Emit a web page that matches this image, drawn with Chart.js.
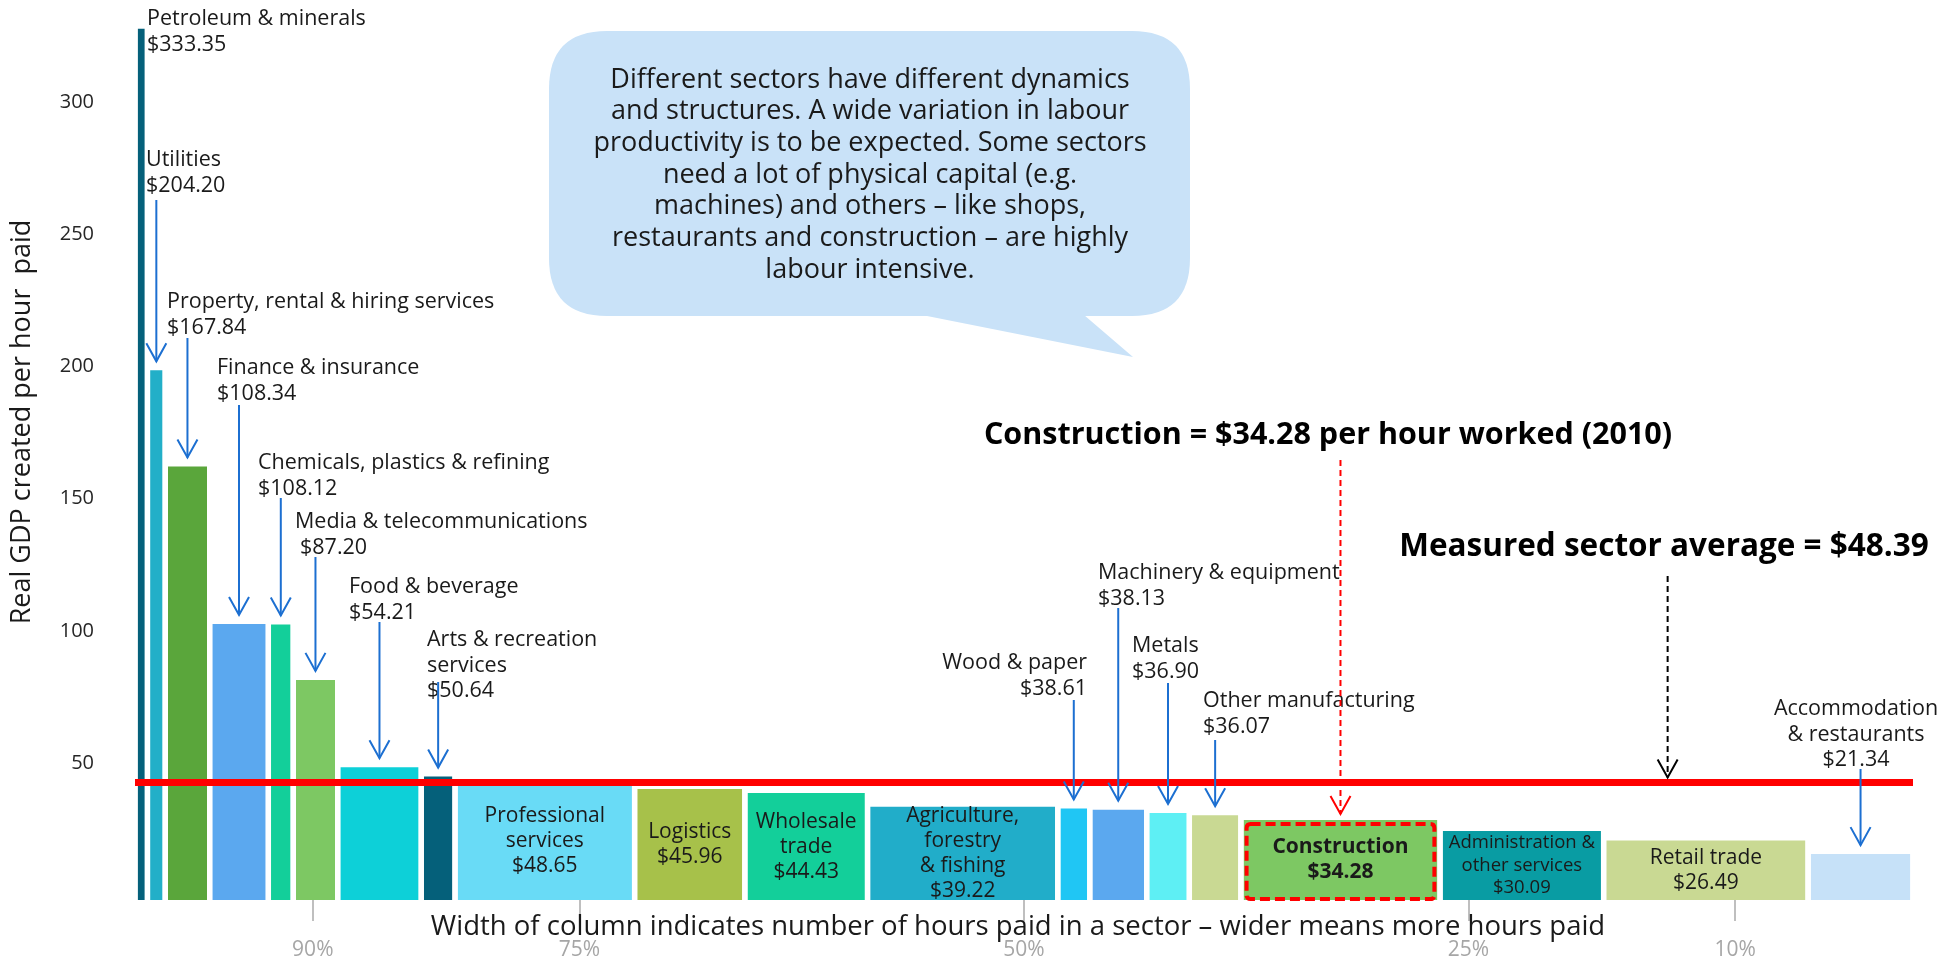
<!DOCTYPE html>
<html>
<head>
<meta charset="utf-8">
<script src="https://cdn.jsdelivr.net/npm/chart.js@4.4.1/dist/chart.umd.min.js"></script>
<style>
  html, body { margin: 0; padding: 0; background: #fff; }
  #wrap { width: 1960px; height: 961px; }
</style>
</head>
<body>
<div id="wrap"><canvas id="chart" width="1960" height="961"></canvas></div>
<script>
const sectors = [
    'Petroleum & minerals', 'Utilities', 'Property, rental & hiring services', 'Finance & insurance',
    'Chemicals, plastics & refining', 'Media & telecommunications', 'Food & beverage',
    'Arts & recreation services', 'Professional services', 'Logistics', 'Wholesale trade',
    'Agriculture, forestry & fishing', 'Wood & paper', 'Machinery & equipment', 'Metals',
    'Other manufacturing', 'Construction', 'Administration & other services', 'Retail trade',
    'Accommodation & restaurants'
];
// real GDP per hour paid ($)
const gdpPerHour = [333.35, 204.20, 167.84, 108.34, 108.12, 87.20, 54.21, 50.64, 48.65, 45.96,
    44.43, 39.22, 38.61, 38.13, 36.90, 36.07, 34.28, 30.09, 26.49, 21.34];
// share of total hours paid (%), read from column widths
const hoursShare = [0.7, 1.0, 2.5, 3.3, 1.4, 2.5, 4.7, 1.9, 10.1, 6.2,
    6.9, 10.7, 1.8, 3.2, 2.4, 2.9, 11.2, 9.2, 11.5, 5.9];
const sectorAverage = 48.39;
const yTicks = [50, 100, 150, 200, 250, 300];
const hoursTicks = [90, 75, 50, 25, 10];   // % of hours to the right of the tick

const barColours = ['#05607a', '#22afc8', '#5aa63b', '#5ba8ef', '#13cf9a', '#7dc863', '#0dd0d8',
    '#05607a', '#69dbf6', '#a7c14a', '#13cf9a', '#21adc9', '#20c6f4', '#5ba8ef', '#5eeff4',
    '#c9d993', '#7dc863', '#099ca3', '#c9d993', '#c6e1f8'];

const FONT = '"Open Sans", sans-serif';
const GAP = 0.3;
const CONSTRUCTION = 16;

// cumulative start of each column along the hours axis
const starts = [];
let acc = 0;
hoursShare.forEach(s => { starts.push(acc); acc += s; });

// labels above the columns with arrows pointing down
const outsideLabels = [
    { i: 0, lines: ['Petroleum & minerals'], x: 147, y: 19, align: 'left' },
    { i: 1, lines: ['Utilities'], x: 146, y: 160, align: 'left', from: 200 },
    { i: 2, lines: ['Property, rental & hiring services'], x: 167, y: 302, align: 'left', from: 338 },
    { i: 3, lines: ['Finance & insurance'], x: 217, y: 368, align: 'left', from: 405 },
    { i: 4, lines: ['Chemicals, plastics & refining'], x: 258, y: 463, align: 'left', from: 498 },
    { i: 5, lines: ['Media & telecommunications'], x: 295, y: 522, align: 'left', from: 557, valueDx: 5 },
    { i: 6, lines: ['Food & beverage'], x: 349, y: 587, align: 'left', from: 622 },
    { i: 7, lines: ['Arts & recreation', 'services'], x: 427, y: 640, align: 'left', from: 682 },
    { i: 12, lines: ['Wood & paper'], x: 1087, y: 663, align: 'right', from: 700 },
    { i: 13, lines: ['Machinery & equipment'], x: 1098, y: 573, align: 'left', from: 608 },
    { i: 14, lines: ['Metals'], x: 1132, y: 646, align: 'left', from: 683 },
    { i: 15, lines: ['Other manufacturing'], x: 1203, y: 701, align: 'left', from: 740 },
    { i: 19, lines: ['Accommodation', '& restaurants'], x: 1856, y: 709, align: 'center', from: 769 }
];

// labels written inside the wide columns
const insideLabels = [
    { i: 8, lines: ['Professional', 'services'] },
    { i: 9, lines: ['Logistics'] },
    { i: 10, lines: ['Wholesale', 'trade'] },
    { i: 11, lines: ['Agriculture,', 'forestry', '& fishing'] },
    { i: 16, lines: ['Construction'], bold: true },
    { i: 17, lines: ['Administration &', 'other services'], size: 18.5, lh: 22.5 },
    { i: 18, lines: ['Retail trade'] }
];

const bubbleLines = [
    'Different sectors have different dynamics',
    'and structures. A wide variation in labour',
    'productivity is to be expected. Some sectors',
    'need a lot of physical capital (e.g.',
    'machines) and others \u2013 like shops,',
    'restaurants and construction \u2013 are highly',
    'labour intensive.'
];

function money(v) {
    return '$' + v.toFixed(2);
}

function drawArrow(ctx, x, y0, y1, colour, dash) {
    ctx.save();
    ctx.strokeStyle = colour;
    ctx.lineWidth = 2;
    ctx.setLineDash(dash || []);
    ctx.beginPath();
    ctx.moveTo(x, y0);
    ctx.lineTo(x, y1);
    ctx.stroke();
    ctx.setLineDash([]);
    ctx.beginPath();
    ctx.moveTo(x - 10, y1 - 18);
    ctx.lineTo(x, y1);
    ctx.lineTo(x + 10, y1 - 18);
    ctx.stroke();
    ctx.restore();
}

function roundRect(ctx, x0, y0, x1, y1, r) {
    ctx.beginPath();
    ctx.moveTo(x0 + r, y0);
    ctx.lineTo(x1 - r, y0);
    ctx.quadraticCurveTo(x1, y0, x1, y0 + r);
    ctx.lineTo(x1, y1 - r);
    ctx.quadraticCurveTo(x1, y1, x1 - r, y1);
    ctx.lineTo(x0 + r, y1);
    ctx.quadraticCurveTo(x0, y1, x0, y1 - r);
    ctx.lineTo(x0, y0 + r);
    ctx.quadraticCurveTo(x0, y0, x0 + r, y0);
    ctx.closePath();
}

const annotationPlugin = {
    id: 'annotations',
    beforeDatasetsDraw(chart) {
        const ctx = chart.ctx;
        // speech bubble
        ctx.save();
        ctx.fillStyle = '#c9e2f8';
        roundRect(ctx, 549, 31, 1190, 316, 58);
        ctx.fill();
        ctx.beginPath();
        ctx.moveTo(922, 315);
        ctx.lineTo(1133, 357);
        ctx.lineTo(1084, 315);
        ctx.closePath();
        ctx.fill();
        ctx.fillStyle = '#1a1a1a';
        ctx.font = '27px ' + FONT;
        ctx.textAlign = 'center';
        ctx.textBaseline = 'middle';
        bubbleLines.forEach((t, k) => ctx.fillText(t, 870, 80 + k * 31.7));
        ctx.restore();
    },
    afterDatasetsDraw(chart) {
        const ctx = chart.ctx;
        const xs = chart.scales.x;
        const ys = chart.scales.y;
        const area = chart.chartArea;
        const centre = i => xs.getPixelForValue(starts[i] + hoursShare[i] / 2);
        const top = i => ys.getPixelForValue(gdpPerHour[i]);

        // construction highlight
        ctx.save();
        const cx0 = xs.getPixelForValue(starts[CONSTRUCTION] + GAP / 2) + 3;
        const cx1 = xs.getPixelForValue(starts[CONSTRUCTION] + hoursShare[CONSTRUCTION] - GAP / 2) - 3;
        ctx.strokeStyle = '#ff0000';
        ctx.lineWidth = 4;
        ctx.setLineDash([10, 5]);
        roundRect(ctx, cx0, top(CONSTRUCTION) + 4, cx1, area.bottom - 1, 4);
        ctx.stroke();
        ctx.restore();

        ctx.save();
        ctx.fillStyle = '#1a1a1a';
        ctx.textBaseline = 'middle';

        // labels above columns
        outsideLabels.forEach(a => {
            ctx.font = '21.5px ' + FONT;
            ctx.textAlign = a.align;
            a.lines.forEach((t, k) => ctx.fillText(t, a.x, a.y + k * 25.5));
            ctx.fillText(money(gdpPerHour[a.i]), a.x + (a.valueDx || 0), a.y + a.lines.length * 25.5);
            if (a.from) drawArrow(ctx, centre(a.i), a.from, top(a.i) - 9, '#1c6fd1');
        });

        // labels inside columns
        insideLabels.forEach(a => {
            const size = a.size || 21;
            const lh = a.lh || 25;
            const lines = a.lines.concat([money(gdpPerHour[a.i])]);
            const mid = (top(a.i) + area.bottom) / 2;
            const y0 = mid - (lines.length - 1) * lh / 2;
            ctx.font = (a.bold ? 'bold ' : '') + size + 'px ' + FONT;
            ctx.textAlign = 'center';
            lines.forEach((t, k) => ctx.fillText(t, centre(a.i), y0 + k * lh));
        });

        // headline texts and dashed arrows
        ctx.font = 'bold 30.5px ' + FONT;
        ctx.textAlign = 'center';
        ctx.fillStyle = '#000';
        ctx.fillText('Construction = ' + money(gdpPerHour[CONSTRUCTION]) + ' per hour worked (2010)', 1328, 435);
        drawArrow(ctx, centre(CONSTRUCTION), 460, top(CONSTRUCTION) - 6, '#ff0000', [6, 4]);
        ctx.font = 'bold 31.5px ' + FONT;
        ctx.fillText('Measured sector average = ' + money(sectorAverage), 1664, 547);
        drawArrow(ctx, xs.getPixelForValue(86.2), 576, ys.getPixelForValue(sectorAverage) - 5, '#000', [6, 4]);

        // axis titles
        ctx.font = '27.5px ' + FONT;
        ctx.fillStyle = '#1a1a1a';
        ctx.fillText('Width of column indicates number of hours paid in a sector \u2013 wider means more hours paid', 1018, 927);
        ctx.font = '27px ' + FONT;
        ctx.translate(22, 422);
        ctx.rotate(-Math.PI / 2);
        ctx.fillText('Real GDP created per hour  paid', 0, 0);
        ctx.restore();
    }
};

const barSets = sectors.map((name, i) => ({
    label: name,
    data: [
        { x: starts[i] + GAP / 2, y: gdpPerHour[i] },
        { x: starts[i] + hoursShare[i] - GAP / 2, y: gdpPerHour[i] }
    ],
    backgroundColor: barColours[i],
    borderColor: 'rgba(0,0,0,0)',
    borderWidth: 0,
    showLine: false,
    pointRadius: 0,
    fill: 'origin',
    order: 1
}));

const averageSet = {
    label: 'Measured sector average',
    data: [{ x: 0, y: sectorAverage }, { x: 100, y: sectorAverage }],
    borderColor: '#ff0000',
    borderWidth: 7,
    pointRadius: 0,
    fill: false,
    clip: false,
    order: 0
};

new Chart(document.getElementById('chart'), {
    type: 'line',
    data: { datasets: [averageSet].concat(barSets) },
    options: {
        responsive: false,
        animation: false,
        devicePixelRatio: 1,
        layout: { padding: { top: 19, right: 47, bottom: 0, left: 0 } },
        plugins: {
            legend: { display: false },
            tooltip: { enabled: false }
        },
        scales: {
            x: {
                type: 'linear',
                min: 0,
                max: 100,
                afterBuildTicks: s => { s.ticks = hoursTicks.map(v => ({ value: 100 - v })); },
                ticks: {
                    callback: v => Math.round(100 - v) + '%',
                    color: '#a6a6a6',
                    font: { family: FONT, size: 21 },
                    padding: 16,
                    maxRotation: 0,
                    autoSkip: false
                },
                grid: { display: true, drawOnChartArea: false, drawTicks: true, tickLength: 21, color: '#bfbfbf', lineWidth: 2 },
                border: { display: false },
                afterFit: s => {
                    s.height = 61;
                    s.paddingLeft = 0;
                    s.paddingRight = 0;
                }
            },
            y: {
                min: 4,
                max: 337,
                afterBuildTicks: s => { s.ticks = yTicks.map(v => ({ value: v })); },
                ticks: {
                    color: '#262626',
                    font: { family: FONT, size: 20 },
                    padding: 41,
                    labelOffset: -15
                },
                grid: { display: false, drawTicks: false },
                border: { display: false },
                afterFit: s => {
                    s.width = 135;
                    s.paddingTop = 0;
                    s.paddingBottom = 0;
                }
            }
        }
    },
    plugins: [annotationPlugin]
});
</script>
</body>
</html>
